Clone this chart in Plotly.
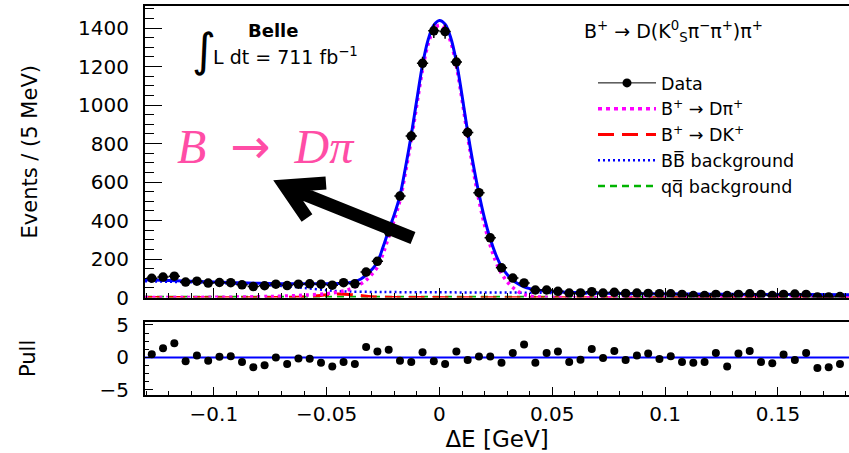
import numpy as np
import plotly.graph_objects as go

# ---------------- data ----------------
bin_first_center = -0.1275
bin_width = 0.005
n_bins = 62
dE_centers = np.round(bin_first_center + bin_width * np.arange(n_bins), 4)

events = [100, 106, 111, 80, 85, 75, 78, 77, 66, 57,
          61, 69, 62, 69, 71, 69, 64, 77, 71, 132,
          188, 340, 527, 839, 1217, 1386, 1382, 1224, 858, 545,
          310, 154, 101, 76, 39, 39, 32, 23, 24, 30,
          23, 27, 21, 23, 21, 20, 19, 16, 10, 10,
          16, 10, 16, 19, 16, 10, 16, 18, 16, 3,
          3, 5]

pulls = [0.5, 1.4, 2.2, -0.6, 0.3, -0.5, 0.1, 0.2, -0.7, -1.5,
         -1.2, 0.0, -1.0, -0.15, -0.2, -0.8, -1.4, -0.7, -1.0, 1.6,
         0.9, 1.2, -0.5, -0.7, 0.8, -0.6, -1.0, 0.9, -0.4, 0.15,
         0.15, -0.8, 0.7, 2.0, -0.8, 0.7, 0.9, -0.7, -0.35, 1.3,
         -0.1, 1.0, -0.4, 0.3, 0.6, -0.25, 0.2, -0.7, -0.8, -0.7,
         0.7, -1.4, 0.6, 1.0, -0.7, -0.9, 0.45, -0.4, 0.7, -1.6,
         -1.5, -1.0]

# total fit (blue solid)
total_x = [-0.1305, -0.12, -0.11, -0.10, -0.09, -0.08, -0.07, -0.06, -0.05, -0.045,
           -0.04, -0.0375, -0.035, -0.0325, -0.03, -0.0275, -0.025, -0.0225, -0.02, -0.0175,
           -0.015, -0.0125, -0.01, -0.0075, -0.005, -0.0025, 0.0, 0.0025, 0.005, 0.0075,
           0.01, 0.0125, 0.015, 0.0175, 0.02, 0.0225, 0.025, 0.0275, 0.03, 0.0325,
           0.035, 0.0375, 0.04, 0.045, 0.05, 0.06, 0.07, 0.08, 0.10, 0.12,
           0.14, 0.16, 0.1815]
total_y = [92, 88, 84, 80, 77, 74, 72, 71, 72, 73,
           77, 84, 95, 116, 145, 184, 262, 350, 432, 530,
           680, 845, 1030, 1210, 1340, 1415, 1440, 1420, 1350, 1225,
           1050, 860, 690, 540, 410, 305, 222, 160, 120, 90,
           70, 55, 46, 36, 31, 26, 23, 21, 19, 17,
           16, 15, 14]

# B+ -> D pi+ (magenta dotted)
dpi_x = [-0.1305, -0.10, -0.08, -0.07, -0.06, -0.05, -0.045, -0.04, -0.035, -0.0325,
         -0.03, -0.0275, -0.025, -0.0225, -0.02, -0.0175, -0.015, -0.0125, -0.01, -0.0075,
         -0.005, -0.0025, 0.0, 0.0025, 0.005, 0.0075, 0.01, 0.0125, 0.015, 0.0175,
         0.02, 0.0225, 0.025, 0.0275, 0.03, 0.0325, 0.035, 0.0375, 0.04, 0.045,
         0.05, 0.1815]
dpi_y = [0, 1, 4, 7, 12, 20, 28, 42, 70, 90,
         120, 158, 228, 315, 405, 505, 655, 820, 1005, 1185,
         1318, 1392, 1415, 1397, 1328, 1203, 1028, 838, 662, 506,
         376, 271, 186, 125, 82, 52, 30, 15, 7, 2,
         0, 0]

# B+ -> D K+ (red long dash)
dk_x = [-0.1305, -0.07, -0.06, -0.055, -0.05, -0.045, -0.04, -0.035, -0.03, -0.025, -0.02, 0.1815]
dk_y = [0, 0, 3, 8, 14, 18, 16, 10, 4, 1, 0, 0]

# BB background (blue dotted)
bb_x = [-0.1305, -0.12, -0.11, -0.10, -0.09, -0.08, -0.07, -0.06, -0.05, -0.045,
        -0.04, -0.03, -0.02, 0.0, 0.02, 0.04, 0.06, 0.08, 0.10, 0.12,
        0.14, 0.16, 0.1815]
bb_y = [85, 82, 79, 76, 72, 67, 60, 50, 38, 33,
        31, 29, 28, 27, 26, 25, 22, 19, 17, 15,
        13, 12, 11]

# q qbar background (green dashed)
qq_x = [-0.1305, 0.1815]
qq_y = [3, 3]

x_range = [-0.1305, 0.1815]
y_range_top = [0, 1515]
y_range_pull = [-5.77, 5.5]

# ---------------- geometry helpers (pixels -> paper) ----------------
W, H = 849, 453
L, R, T, B = 145, 0, 6, 58
PW, PH = W - L - R, H - T - B


def px(xp):
    return (xp - L) / PW


def py(yp):
    return (H - B - yp) / PH


top_domain = [py(297.5), 1.0]
bot_domain = [0.0, py(321.7)]

BLUE = "#0000FF"
MAG = "#FF00FF"
RED = "#FF0000"
GREEN = "#00B400"
FONT = "DejaVu Sans, Liberation Sans, sans-serif"
ARW = "<span style='font-family:DejaVu Sans'>→</span>"

fig = go.Figure()

fig.add_trace(go.Scatter(x=qq_x, y=qq_y, mode="lines",
                         line=dict(color=GREEN, width=2.5, dash="7px,5px"), showlegend=False,
                         xaxis="x", yaxis="y"))
fig.add_trace(go.Scatter(x=bb_x, y=bb_y, mode="lines", line_shape="spline",
                         line=dict(color=BLUE, width=2.5, dash="2px,3px"), showlegend=False,
                         xaxis="x", yaxis="y"))
fig.add_trace(go.Scatter(x=dk_x, y=dk_y, mode="lines", line_shape="spline",
                         line=dict(color=RED, width=3, dash="16px,8px"), showlegend=False,
                         xaxis="x", yaxis="y"))
fig.add_trace(go.Scatter(x=dpi_x, y=dpi_y, mode="lines", line_shape="spline",
                         line=dict(color=MAG, width=3.5, dash="3px,4px"), showlegend=False,
                         xaxis="x", yaxis="y"))
fig.add_trace(go.Scatter(x=total_x, y=total_y, mode="lines", line_shape="spline",
                         line=dict(color=BLUE, width=3), showlegend=False,
                         xaxis="x", yaxis="y"))
fig.add_trace(go.Scatter(x=dE_centers, y=events, mode="markers",
                         marker=dict(color="black", size=9.5),
                         error_y=dict(type="data", array=np.sqrt(events), color="black", thickness=1.5, width=0),
                         error_x=dict(type="constant", value=bin_width / 2, color="black", thickness=1.5, width=0),
                         showlegend=False, xaxis="x", yaxis="y"))

# legend entries
leg_font = dict(family=FONT, size=17.5, color="black")
fig.add_trace(go.Scatter(x=[None], y=[None], mode="lines+markers", name="Data",
                         line=dict(color="black", width=1), marker=dict(color="black", size=9),
                         xaxis="x", yaxis="y"))
fig.add_trace(go.Scatter(x=[None], y=[None], mode="lines", name=f"B<sup>+</sup> {ARW} Dπ<sup>+</sup>",
                         line=dict(color=MAG, width=3.5, dash="4px,4px"), xaxis="x", yaxis="y"))
fig.add_trace(go.Scatter(x=[None], y=[None], mode="lines", name=f"B<sup>+</sup> {ARW} DK<sup>+</sup>",
                         line=dict(color=RED, width=3, dash="16px,8px"), xaxis="x", yaxis="y"))
fig.add_trace(go.Scatter(x=[None], y=[None], mode="lines", name="BB\u0305 background",
                         line=dict(color=BLUE, width=2.5, dash="2px,3px"), xaxis="x", yaxis="y"))
fig.add_trace(go.Scatter(x=[None], y=[None], mode="lines", name="qq\u0305 background",
                         line=dict(color=GREEN, width=2.5, dash="7px,5px"), xaxis="x", yaxis="y"))

# pull panel
fig.add_trace(go.Scatter(x=dE_centers, y=pulls, mode="markers",
                         marker=dict(color="black", size=8), showlegend=False,
                         xaxis="x2", yaxis="y2"))

axis_common = dict(showline=True, linecolor="black", linewidth=2, ticks="inside",
                   tickcolor="black", showgrid=False, zeroline=False,
                   tickfont=dict(family=FONT, size=20, color="black"))

fig.update_layout(
    width=W, height=H,
    margin=dict(l=L, r=R, t=T, b=B, autoexpand=False),
    paper_bgcolor="white", plot_bgcolor="white",
    showlegend=True,
    legend=dict(x=px(593), y=py(65), xanchor="left", yanchor="top",
                font=leg_font, bgcolor="rgba(0,0,0,0)", itemwidth=58,
                tracegroupgap=0, itemsizing="trace"),
    xaxis=dict(domain=[0, 1], range=x_range, anchor="y", matches="x2", showticklabels=False,
               mirror=True, dtick=0.05, tick0=0, ticklen=10,
               minor=dict(ticks="inside", dtick=0.01, ticklen=5, tickcolor="black"),
               **axis_common),
    yaxis=dict(domain=top_domain, range=y_range_top, anchor="x", dtick=200, ticklen=17,
               minor=dict(ticks="inside", dtick=50, ticklen=9, tickcolor="black"),
               ticklabelstandoff=10,
               title=dict(text="Events / (5 MeV)", standoff=35,
                          font=dict(family=FONT, size=21, color="black")),
               **axis_common),
    xaxis2=dict(domain=[0, 1], range=x_range, anchor="y2", mirror=True,
                dtick=0.05, tick0=0, ticklen=8,
                minor=dict(ticks="inside", dtick=0.01, ticklen=4, tickcolor="black"),
                tickvals=[-0.1, -0.05, 0, 0.05, 0.1, 0.15],
                ticktext=["−0.1", "−0.05", "0", "0.05", "0.1", "0.15"],
                title=dict(text="ΔE [GeV]", standoff=4,
                           font=dict(family=FONT, size=23, color="black")),
                **axis_common),
    yaxis2=dict(domain=bot_domain, range=y_range_pull, anchor="x2",
                tickvals=[-5, 0, 5], ticktext=["−5", "0", "5"], ticklen=8,
                minor=dict(ticks="inside", dtick=1.25, ticklen=4, tickcolor="black"),
                ticklabelstandoff=10,
                title=dict(text="Pull", standoff=58,
                           font=dict(family=FONT, size=21, color="black")),
                **axis_common),
)

# zero line in pull panel
fig.add_shape(type="line", xref="x2 domain", yref="y2", x0=0, x1=1, y0=0, y1=0,
              line=dict(color=BLUE, width=2), layer="below")

# black arrow (decoration)
arrow_path = (f"M {px(413)},{py(238)} L {px(286)},{py(187)} "
              f"M {px(326)},{py(183)} L {px(285)},{py(186)} L {px(307)},{py(218)}")
fig.add_shape(type="path", xref="paper", yref="paper", path=arrow_path,
              line=dict(color="black", width=13))

# texts
ann = dict(xref="paper", yref="paper", showarrow=False, yanchor="middle")
fig.add_annotation(x=px(273), y=py(31), xanchor="center",
                   text="<b>Belle</b>", font=dict(family=FONT, size=18, color="black"), **ann)
fig.add_annotation(x=px(190), y=py(50), xanchor="left",
                   text="∫", font=dict(family="DejaVu Sans", size=46, color="black"), **ann)
fig.add_annotation(x=px(211), y=py(56), xanchor="left",
                   text="L dt = 711 fb<sup>−1</sup>", font=dict(family=FONT, size=19, color="black"), **ann)
fig.add_annotation(x=px(582), y=py(32), xanchor="left",
                   text=f"B<sup>+</sup> {ARW} D(K<sup>0</sup><sub>S</sub>π<sup>−</sup>π<sup>+</sup>)π<sup>+</sup>",
                   font=dict(family=FONT, size=19, color="black"), **ann)
fig.add_annotation(x=px(175), y=py(146), xanchor="left",
                   text=f"<i>B</i>&nbsp; {ARW} &nbsp;<i>Dπ</i>",
                   font=dict(family="Liberation Serif", size=48, color="#FF4DA6"), **ann)

fig.write_html("out.html", config={"displayModeBar": False},
               post_script="document.body.style.margin='0px';")
